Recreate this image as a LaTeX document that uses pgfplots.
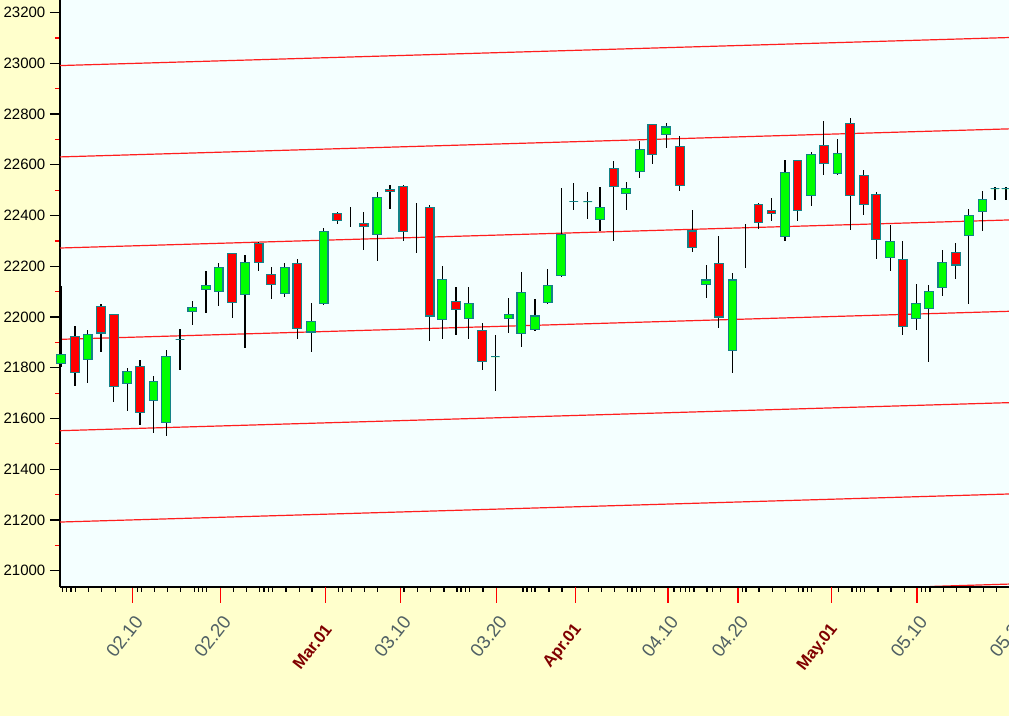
\documentclass[border=0pt]{standalone}
\usepackage{fontspec}
\setmainfont{Liberation Sans}
\usepackage{pgfplots}
\pgfplotsset{compat=1.18}
\usepgfplotslibrary{statistics}
\definecolor{outerbg}{RGB}{255,255,204}
\definecolor{plotbg}{RGB}{244,255,255}
\definecolor{candleup}{RGB}{0,255,0}
\definecolor{candledn}{RGB}{255,0,0}
\definecolor{candleedge}{RGB}{20,130,135}
\definecolor{chan}{RGB}{255,30,30}
\definecolor{datecol}{RGB}{80,96,100}
\definecolor{monthcol}{RGB}{128,0,0}
\pgfplotsset{
 candlebase/.style={boxplot/draw direction=y, boxplot/box extend=8.6, boxplot/whisker extend=0,
   boxplot/every whisker/.style={draw=black, line width=1pt},
   boxplot/every median/.style={draw=none}},
 up/.style={candlebase, boxplot/every box/.style={draw=candleedge, fill=candleup, line width=0.8pt}},
 dn/.style={candlebase, boxplot/every box/.style={draw=candleedge, fill=candledn, line width=0.8pt}},
 bare/.style={candlebase, boxplot/every box/.style={draw=none}},
}
% \candle{x}{open}{high}{low}{close}
\newcommand\candle[5]{%
  \ifnum#5<#2\relax\def\lo{#5}\def\hi{#2}\def\cs{dn}\else\def\lo{#2}\def\hi{#5}\def\cs{up}\fi
  \edef\next{\noexpand\addplot[\cs, boxplot prepared={draw position=#1, lower whisker=#4, lower quartile=\lo, median=\lo, upper quartile=\hi, upper whisker=#3}] coordinates {};}\next}
% \barecandle{x}{high}{low}{mid}
\newcommand\barecandle[4]{%
  \addplot[bare, boxplot prepared={draw position=#1, lower whisker=#3, lower quartile=#4, median=#4, upper quartile=#4, upper whisker=#2}] coordinates {};}
\begin{document}
\begin{tikzpicture}[x=1pt,y=1pt]
\useasboundingbox (0,0) rectangle (756.75,537);
\clip (0,0) rectangle (756.75,537);
\fill[outerbg] (0,0) rectangle (756.75,537);
\begin{axis}[at={(45pt,96.75pt)}, anchor=south west, scale only axis,
  width=727.5pt, height=440.25pt,
  xmin=60, xmax=1030, ymin=20936, ymax=23249.5, clip=false,
  axis lines*=left, axis line style={black, line width=1.1pt},
  axis background/.style={fill=plotbg},
  xtick=\empty,
  ytick={21000,21200,...,23200},
  yticklabels={21000,21200,21400,21600,21800,22000,22200,22400,22600,22800,23000,23200},
  minor ytick={21000,21100,...,23200},
  tick align=outside, major tick length=7.5pt, minor tick length=3.75pt,
  every major y tick/.style={black, line width=0.9pt},
  every minor y tick/.style={red, line width=0.9pt},
  yticklabel style={font=\fontsize{11.25}{13}\selectfont, text=black},
]
% channel lines
\addplot[chan, line width=0.9pt] coordinates {(60,22991) (1030,23104)};
\addplot[chan, line width=0.9pt] coordinates {(60,22631) (1030,22744)};
\addplot[chan, line width=0.9pt] coordinates {(60,22272) (1030,22385)};
\addplot[chan, line width=0.9pt] coordinates {(60,21912) (1030,22025)};
\addplot[chan, line width=0.9pt] coordinates {(60,21552) (1030,21665)};
\addplot[chan, line width=0.9pt] coordinates {(60,21192) (1030,21305)};
\addplot[chan, line width=0.9pt] coordinates {(930,20938) (1030,20950)};
% candles: x, open, high, low, close
\candle{61}{21818}{22124}{21804}{21854}
\candle{75}{21922}{21964}{21730}{21780}
\candle{87.7}{21833}{21948}{21739}{21931}
\candle{101}{22043}{22051}{21861}{21937}
\candle{113.8}{22009}{22012}{21665}{21726}
\candle{127.3}{21737}{21800}{21631}{21785}
\candle{140}{21804}{21829}{21576}{21624}
\candle{153.5}{21671}{21767}{21544}{21746}
\candle{166.2}{21585}{21870}{21533}{21843}
\candle{180}{21913}{21953}{21791}{21913}
\candle{192.3}{22023}{22065}{21968}{22039}
\candle{206}{22107}{22183}{22016}{22123}
\candle{218.7}{22102}{22213}{22042}{22196}
\candle{232.2}{22250}{22252}{21998}{22059}
\candle{245}{22088}{22245}{21876}{22215}
\candle{258.7}{22290}{22295}{22183}{22215}
\candle{271.2}{22167}{22196}{22070}{22127}
\candle{284.7}{22092}{22213}{22080}{22196}
\candle{297.3}{22211}{22227}{21915}{21956}
\candle{311.2}{21941}{22056}{21861}{21984}
\candle{323.7}{22052}{22350}{22046}{22338}
\candle{337.3}{22407}{22415}{22366}{22381}
\barecandle{350.3}{22433}{22355}{22395}
\candle{363.7}{22368}{22413}{22266}{22356}
\candle{377.3}{22326}{22491}{22222}{22470}
\candle{390}{22504}{22519}{22424}{22493}
\candle{403.3}{22514}{22519}{22300}{22337}
\barecandle{416.7}{22448}{22252}{22350}
\candle{429.7}{22431}{22441}{21905}{22004}
\candle{442.2}{21990}{22201}{21915}{22148}
\candle{456}{22063}{22117}{21930}{22029}
\candle{468.7}{21995}{22117}{21915}{22054}
\candle{482.2}{21947}{21977}{21791}{21824}
\candle{495.3}{21843}{21928}{21709}{21843}
\candle{508.7}{21995}{22074}{21939}{22011}
\candle{521.3}{21935}{22179}{21880}{22097}
\candle{535}{21951}{22070}{21944}{22004}
\candle{547.7}{22056}{22188}{22052}{22124}
\candle{561.2}{22164}{22510}{22159}{22324}
\candle{573.7}{22457}{22527}{22423}{22457}
\candle{587.7}{22454}{22492}{22385}{22454}
\candle{600}{22386}{22514}{22341}{22431}
\candle{613.7}{22586}{22613}{22300}{22513}
\candle{626.2}{22488}{22531}{22423}{22508}
\candle{639.8}{22575}{22692}{22546}{22659}
\candle{652.3}{22758}{22762}{22604}{22641}
\candle{666.2}{22719}{22766}{22668}{22749}
\candle{679.8}{22671}{22715}{22496}{22518}
\candle{692.3}{22339}{22423}{22256}{22274}
\candle{706.2}{22127}{22206}{22076}{22146}
\candle{718.8}{22210}{22319}{21958}{22000}
\candle{732.5}{21868}{22172}{21778}{22146}
\barecandle{745.7}{22368}{22193}{22280}
\candle{758.5}{22445}{22448}{22346}{22372}
\candle{771.5}{22421}{22471}{22380}{22407}
\candle{785}{22317}{22617}{22300}{22568}
\candle{797.5}{22616}{22620}{22378}{22420}
\candle{811.2}{22479}{22649}{22437}{22642}
\candle{823.8}{22676}{22773}{22560}{22605}
\candle{837.5}{22566}{22701}{22560}{22645}
\candle{850.2}{22762}{22786}{22344}{22479}
\candle{863.8}{22557}{22578}{22403}{22445}
\candle{876.3}{22484}{22491}{22227}{22304}
\candle{890.2}{22235}{22364}{22183}{22297}
\candle{902.7}{22225}{22299}{21931}{21961}
\candle{916.2}{21994}{22129}{21949}{22054}
\candle{928.8}{22034}{22128}{21823}{22102}
\candle{942.3}{22117}{22265}{22081}{22215}
\candle{955.8}{22253}{22290}{22150}{22205}
\candle{968.8}{22323}{22427}{22052}{22401}
\candle{982.5}{22415}{22496}{22339}{22465}
\candle{995}{22506}{22513}{22462}{22506}
\candle{1006}{22506}{22513}{22462}{22506}
\end{axis}
\begin{axis}[at={(45pt,96.75pt)}, anchor=south west, scale only axis,
  width=727.5pt, height=440.25pt,
  xmin=60, xmax=1030, ymin=20936, ymax=23249.5,
  axis x line*=bottom, axis y line=none, ytick=\empty,
  axis line style={black, line width=1.1pt},
  xtick={132.6,220.7,400.7,496.7,668,738,917,1016},
  xticklabels={02.10,02.20,03.10,03.20,04.10,04.20,05.10,05.20},
  extra x ticks={325.3,575.7,831.7},
  extra x tick labels={Mar.01,Apr.01,May.01},
  extra x tick style={xticklabel style={font=\bfseries\fontsize{12.5}{14}\selectfont, text=monthcol, xshift=-6.3pt, yshift=-1.7pt}},
  minor xtick={62.3,66.7,71,75.3,88.7,101.7,115.3,137.3,141.3,154.3,167.7,180.3,194.3,198.7,202.7,206.7,233.3,246.7,259.7,264,268.3,272.7,286,299.3,312,338.3,342.3,351.3,364.7,377.7,404,417.3,430.7,444,457,461,465.3,469.7,483,523,527,531.3,535,549,562,588.3,601.7,614.3,627.7,632,636.3,640.7,654.3,674,680.7,685.3,689.3,694,707,712.3,720.7,742.3,746,759,772.3,785.7,798.7,803,807.3,811.7,838.3,852,856.3,860.7,864.3,878,891,904.3,921.3,925.7,930,943.3,956.7,970,983.3,996.7},
  tick align=outside, major tick length=12pt, minor tick length=3.75pt,
  every major x tick/.style={red, line width=0.9pt},
  every minor x tick/.style={black, line width=0.8pt},
  xticklabel style={font=\fontsize{14}{16}\selectfont, text=datecol, inner sep=0pt, xshift=4.8pt, yshift=-11.25pt, rotate=52, anchor=east},
]
\end{axis}
\end{tikzpicture}
\end{document}
